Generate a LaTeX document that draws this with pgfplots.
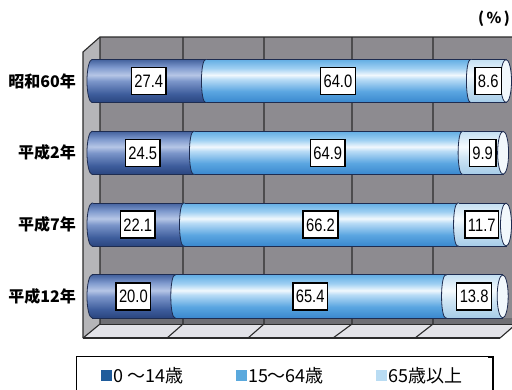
\documentclass[border=0pt]{standalone}
\usepackage{pgfplots}
\pgfplotsset{compat=1.18}
\usepackage{pgfplotstable}
\usepackage{fontspec}
\setmainfont{Noto Sans CJK JP}
\newfontfamily\numfont[FakeStretch=0.82]{Liberation Sans}

% frame colours
\definecolor{wallback}{HTML}{8D8B90}
\definecolor{wallleft}{HTML}{B5B5B8}
\definecolor{wallband}{HTML}{6F6F74}
\definecolor{floorc}{HTML}{E3E3E8}
\definecolor{gridc}{HTML}{2B2B2B}
\definecolor{barline}{HTML}{1E2C50}
\definecolor{capface}{HTML}{F2F8FC}
% cylinder shading colours
\definecolor{dkA}{HTML}{2A457F}\definecolor{dkB}{HTML}{3E5D9C}\definecolor{dkC}{HTML}{7C96CA}
\definecolor{dkD}{HTML}{B6C6E6}\definecolor{dkE}{HTML}{7E99CD}\definecolor{dkF}{HTML}{44629E}
\definecolor{mdA}{HTML}{3A88CE}\definecolor{mdB}{HTML}{5BA6E1}\definecolor{mdC}{HTML}{B9DCF6}
\definecolor{mdD}{HTML}{F1F8FD}\definecolor{mdE}{HTML}{9ECFF2}\definecolor{mdF}{HTML}{63AEE4}
\definecolor{plA}{HTML}{A6CCE8}\definecolor{plB}{HTML}{CFE5F4}\definecolor{plD}{HTML}{F6FBFE}
\definecolor{plF}{HTML}{C3DFF2}
% legend swatches
\definecolor{legdk}{HTML}{1F5C9B}
\definecolor{legmd}{HTML}{5AA9DD}
\definecolor{legpl}{HTML}{B9DCF3}

\pgfdeclareverticalshading{darkcyl}{100bp}{color(0bp)=(dkA); color(25bp)=(dkA); color(35bp)=(dkB);
  color(50bp)=(dkC); color(57bp)=(dkD); color(66bp)=(dkE); color(75bp)=(dkF); color(100bp)=(dkF)}
\pgfdeclareverticalshading{midcyl}{100bp}{color(0bp)=(mdA); color(25bp)=(mdA); color(38bp)=(mdB);
  color(52bp)=(mdC); color(57bp)=(mdD); color(65bp)=(mdE); color(75bp)=(mdF); color(100bp)=(mdF)}
\pgfdeclareverticalshading{palecyl}{100bp}{color(0bp)=(plA); color(25bp)=(plA); color(45bp)=(plB);
  color(57bp)=(plD); color(75bp)=(plF); color(100bp)=(plF)}

% left silhouette of a cylinder segment (#1 = half width of the ellipse)
\def\lcappath#1{%
  \pgfpathmoveto{\pgfqpoint{1.2pt}{21.5pt}}%
  \pgfpathlineto{\pgfqpoint{0pt}{21.5pt}}%
  \pgfpatharc{90}{270}{#1 and 21.5pt}%
  \pgfpathlineto{\pgfqpoint{1.2pt}{-21.5pt}}}
\pgfdeclareplotmark{capdark}{%
  \begin{pgfscope}\lcappath{5pt}\pgfshadepath{darkcyl}{0}\end{pgfscope}%
  \lcappath{5pt}\pgfusepathqstroke}
\pgfdeclareplotmark{capmid}{%
  \begin{pgfscope}\lcappath{4pt}\pgfshadepath{midcyl}{0}\end{pgfscope}%
  \lcappath{4pt}\pgfusepathqstroke}
\pgfdeclareplotmark{cappale}{%
  \begin{pgfscope}\lcappath{4pt}\pgfshadepath{palecyl}{0}\end{pgfscope}%
  \lcappath{4pt}\pgfusepathqstroke}
% visible end face at the right
\pgfdeclareplotmark{capend}{%
  \pgfpathellipse{\pgfpointorigin}{\pgfqpoint{5.5pt}{0pt}}{\pgfqpoint{0pt}{21.5pt}}%
  \pgfusepathqfillstroke}
\pgfdeclareplotmark{nomark}{}

% population share by age group (%)
\pgfplotstableread{
idx a b c
0 27.4 64.0 8.6
1 24.5 64.9 9.9
2 22.1 66.2 11.7
3 20.0 65.4 13.8
}\agedata

\tikzset{lblbox/.style={draw=black, fill=white, line width=1.4pt,
  font=\numfont\fontsize{18}{20}\selectfont, inner xsep=3pt, inner ysep=0pt,
  text height=13pt, text depth=0pt, minimum height=27pt, anchor=center}}

\pgfplotsset{
  boxframe/.style={
    at={(92pt,59pt)}, anchor=south west,
    width=414pt, height=286pt, scale only axis,
    xmin=0, xmax=100, ymin=-0.515, ymax=3.468,
    y dir=reverse, clip=false},
  cylbar/.style={bar shift=0pt, shading=#1, shading angle=0, draw=barline, line width=0.8pt},
  valuebox/.style={forget plot, only marks, mark=nomark, scatter,
    point meta=explicit symbolic,
    scatter/@pre marker code/.code={\node[lblbox] at (canvas cs:x=0pt,y=0pt) {\pgfplotspointmeta};},
    scatter/@post marker code/.code={}},
}

\begin{document}
\begin{tikzpicture}
\useasboundingbox (0,0) rectangle (512pt,389pt);
% box walls, floor and legend
\begin{axis}[boxframe, hide axis,
  legend columns=3,
  legend style={at={(-0.0362,-0.0944)}, anchor=north west, draw=none,
    inner xsep=24pt, inner ysep=8pt, font=\fontsize{18}{20}\selectfont,
    /tikz/column 2/.style={column sep=50pt},
    /tikz/column 4/.style={column sep=50pt}},
]
\fill[wallback] (axis cs:1.93,-0.6125) rectangle (axis cs:103,3.385);
\fill[wallband] (axis cs:1.93,3.301) rectangle (axis cs:103,3.385);
\fill[wallleft] (axis cs:-2.17,-0.404) -- (axis cs:1.93,-0.6125) -- (axis cs:1.93,3.385)
   -- (axis cs:-2.17,3.58) -- cycle;
\fill[floorc] (axis cs:-2.17,3.58) -- (axis cs:1.93,3.385) -- (axis cs:103,3.385)
   -- (axis cs:98.55,3.58) -- cycle;
\draw[gridc, line width=1.1pt] (axis cs:1.93,-0.6125) -- (axis cs:1.93,3.385) -- (axis cs:-2.17,3.58);
\draw[gridc, line width=1.1pt] (axis cs:21.98,-0.6125) -- (axis cs:21.98,3.385) -- (axis cs:18.12,3.58);
\draw[gridc, line width=1.1pt] (axis cs:41.55,-0.6125) -- (axis cs:41.55,3.385) -- (axis cs:37.68,3.58);
\draw[gridc, line width=1.1pt] (axis cs:62.8,-0.6125) -- (axis cs:62.8,3.385) -- (axis cs:58.21,3.58);
\draw[gridc, line width=1.1pt] (axis cs:82.37,-0.6125) -- (axis cs:82.37,3.385) -- (axis cs:78.02,3.58);
\draw[gridc, line width=1.1pt] (axis cs:102.42,-0.6125) -- (axis cs:102.42,3.385) -- (axis cs:98.55,3.58);
\draw[gridc, line width=1.1pt] (axis cs:-2.17,3.58) -- (axis cs:-2.17,-0.404) -- (axis cs:1.93,-0.6125)
   -- (axis cs:103,-0.6125);
\draw[gridc, line width=1.1pt] (axis cs:-2.17,3.58) -- (axis cs:98.55,3.58);
\draw[gridc, line width=0.8pt] (axis cs:1.93,3.385) -- (axis cs:103,3.385);
% legend frame
\draw[black, line width=1.3pt] (axis description cs:-0.0362,-0.0944)
   rectangle (axis description cs:0.9686,-0.25);
\addlegendimage{legend image code/.code={\fill[legdk] (0pt,-5pt) rectangle (10pt,5pt);}}
\addlegendentry{0 ～14歳}
\addlegendimage{legend image code/.code={\fill[legmd] (0pt,-5pt) rectangle (10pt,5pt);}}
\addlegendentry{15～64歳}
\addlegendimage{legend image code/.code={\fill[legpl] (0pt,-5pt) rectangle (10pt,5pt);}}
\addlegendentry{65歳以上}
\end{axis}

% cylinder bars: each age group is laid over the cumulative bar of the older groups
\begin{axis}[boxframe,
  xbar, bar width=43pt,
  axis line style={draw=none},
  xtick=\empty,
  ytick={0,1,2,3},
  yticklabels={昭和60年,平成2年,平成7年,平成12年},
  major tick length=0pt,
  yticklabel style={font=\fontsize{16}{18}\selectfont\bfseries, inner sep=0pt, xshift=-16pt},
]
\pgfplotsinvokeforeach{-0.3:0.3, 0.7:1.3, 1.7:2.3, 2.7:3.3}{
  \addplot[cylbar=palecyl, forget plot, restrict y to domain=#1]
    table[x expr=\thisrow{a}+\thisrow{b}+\thisrow{c}, y=idx] {\agedata};
  \addplot[cylbar=midcyl, forget plot, restrict y to domain=#1]
    table[x expr=\thisrow{a}+\thisrow{b}, y=idx] {\agedata};
  \addplot[cylbar=darkcyl, forget plot, restrict y to domain=#1]
    table[x=a, y=idx] {\agedata};
}

% rounded silhouettes of the cylinder segments
\addplot[forget plot, only marks, mark=capdark, color=barline,
  mark options={line width=0.8pt}] table[x expr=0, y=idx] {\agedata};
\addplot[forget plot, only marks, mark=capmid, color=barline,
  mark options={line width=0.8pt}] table[x=a, y=idx] {\agedata};
\addplot[forget plot, only marks, mark=cappale, color=barline,
  mark options={line width=0.8pt}] table[x expr=\thisrow{a}+\thisrow{b}, y=idx] {\agedata};
\addplot[forget plot, only marks, mark=capend, color=barline,
  mark options={line width=0.8pt, fill=capface}]
  table[x expr=\thisrow{a}+\thisrow{b}+\thisrow{c}, y=idx] {\agedata};

% value boxes centred on each segment
\addplot[valuebox] table[x expr=\thisrow{a}/2, y=idx, meta=a] {\agedata};
\addplot[valuebox] table[x expr=\thisrow{a}+\thisrow{b}/2, y=idx, meta=b] {\agedata};
\addplot[valuebox] table[x expr=\thisrow{a}+\thisrow{b}+\thisrow{c}/2, y=idx, meta=c] {\agedata};
\end{axis}
\node[font=\fontsize{15}{17}\selectfont\bfseries] at (494pt,370pt) {(\,\%\,)};
\end{tikzpicture}
\end{document}
